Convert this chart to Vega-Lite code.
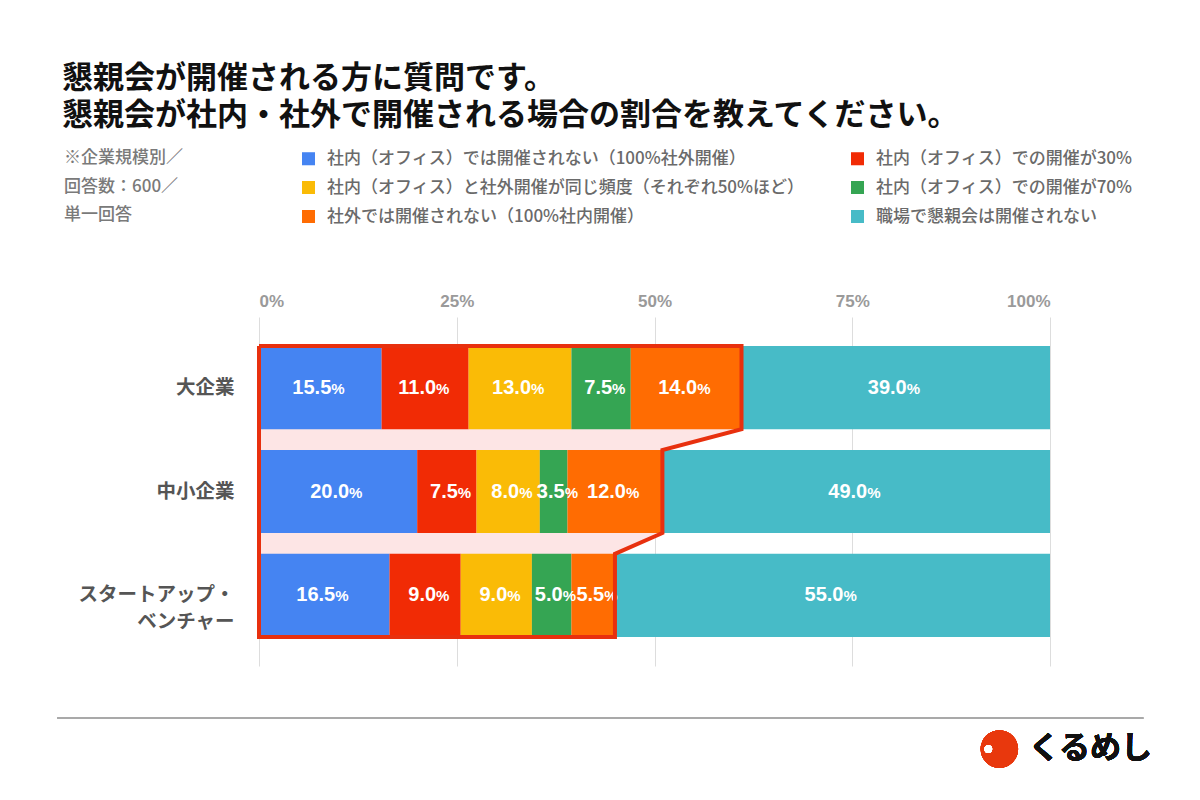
{
  "$schema": "https://vega.github.io/schema/vega-lite/v6.json",
  "autosize": {"type": "none"},
  "width": 791,
  "height": 349,
  "padding": {"left": 259, "top": 317, "right": 150, "bottom": 134},
  "background": "#ffffff",
  "config": {
    "view": {"stroke": null},
    "font": "Noto Sans CJK JP"
  },
  "title": {
    "text": ["懇親会が開催される方に質問です。", "懇親会が社内・社外で開催される場合の割合を教えてください。"],
    "anchor": "start",
    "frame": "group",
    "dx": -197,
    "dy": -14,
    "fontSize": 31,
    "fontWeight": "bold",
    "color": "#111111",
    "lineHeight": 37,
    "font": "Noto Sans CJK JP"
  },
  "datasets": {
    "bars": [
      {"cat": "大企業", "k": 1, "s": "社内（オフィス）では開催されない（100%社外開催）", "v": 15.5},
      {"cat": "大企業", "k": 2, "s": "社内（オフィス）での開催が30%", "v": 11.0},
      {"cat": "大企業", "k": 3, "s": "社内（オフィス）と社外開催が同じ頻度（それぞれ50%ほど）", "v": 13.0},
      {"cat": "大企業", "k": 4, "s": "社内（オフィス）での開催が70%", "v": 7.5},
      {"cat": "大企業", "k": 5, "s": "社外では開催されない（100%社内開催）", "v": 14.0},
      {"cat": "大企業", "k": 6, "s": "職場で懇親会は開催されない", "v": 39.0},
      {"cat": "中小企業", "k": 1, "s": "社内（オフィス）では開催されない（100%社外開催）", "v": 20.0},
      {"cat": "中小企業", "k": 2, "s": "社内（オフィス）での開催が30%", "v": 7.5},
      {"cat": "中小企業", "k": 3, "s": "社内（オフィス）と社外開催が同じ頻度（それぞれ50%ほど）", "v": 8.0},
      {"cat": "中小企業", "k": 4, "s": "社内（オフィス）での開催が70%", "v": 3.5},
      {"cat": "中小企業", "k": 5, "s": "社外では開催されない（100%社内開催）", "v": 12.0},
      {"cat": "中小企業", "k": 6, "s": "職場で懇親会は開催されない", "v": 49.0},
      {"cat": "スタートアップ・\nベンチャー", "k": 1, "s": "社内（オフィス）では開催されない（100%社外開催）", "v": 16.5},
      {"cat": "スタートアップ・\nベンチャー", "k": 2, "s": "社内（オフィス）での開催が30%", "v": 9.0},
      {"cat": "スタートアップ・\nベンチャー", "k": 3, "s": "社内（オフィス）と社外開催が同じ頻度（それぞれ50%ほど）", "v": 9.0},
      {"cat": "スタートアップ・\nベンチャー", "k": 4, "s": "社内（オフィス）での開催が70%", "v": 5.0},
      {"cat": "スタートアップ・\nベンチャー", "k": 5, "s": "社外では開催されない（100%社内開催）", "v": 5.5},
      {"cat": "スタートアップ・\nベンチャー", "k": 6, "s": "職場で懇親会は開催されない", "v": 55.0}
    ],
    "outline": [
      {"o": 1, "px": 0, "py": 0.28},
      {"o": 2, "px": 61, "py": 0.28},
      {"o": 3, "px": 61, "py": 1.08},
      {"o": 4, "px": 51, "py": 1.28},
      {"o": 5, "px": 51, "py": 2.08},
      {"o": 6, "px": 45, "py": 2.28},
      {"o": 7, "px": 45, "py": 3.08},
      {"o": 8, "px": 0, "py": 3.08},
      {"o": 9, "px": 0, "py": 0.28}
    ],
    "pink": [
      {"px": 61, "py": 0.28},
      {"px": 61, "py": 1.08},
      {"px": 51, "py": 1.28},
      {"px": 51, "py": 2.08},
      {"px": 45, "py": 2.28},
      {"px": 45, "py": 3.08}
    ]
  },
  "layer": [
    {
      "data": {"name": "pink"},
      "mark": {"type": "area", "orient": "horizontal", "color": "#FDE5E5", "clip": false},
      "encoding": {
        "y": {"field": "py", "type": "quantitative", "scale": {"domain": [0, 3.36], "reverse": true, "nice": false, "zero": false}, "axis": null},
        "x": {"field": "px", "type": "quantitative", "stack": null, "scale": {"domain": [0, 100], "nice": false}}
      }
    },
    {
      "data": {"name": "bars"},
      "encoding": {
        "y": {
          "field": "cat", "type": "nominal", "sort": null,
          "scale": {"paddingInner": 0.2, "paddingOuter": 0.28},
          "axis": {
            "title": null, "ticks": false, "domain": false,
            "labelPadding": 25, "labelFontSize": 19.5, "labelFontWeight": "bold",
            "labelColor": "#555555", "labelLineHeight": 27,
            "labelFont": "Noto Sans CJK JP",
            "labelExpr": "split(datum.label, '\\n')"
          }
        }
      },
      "layer": [
        {
          "mark": {"type": "bar"},
          "encoding": {
            "x": {
              "field": "v", "type": "quantitative", "stack": "zero",
              "scale": {"domain": [0, 100], "nice": false},
              "axis": {
                "orient": "top", "title": null, "values": [0, 25, 50, 75, 100],
                "labelExpr": "datum.value + '%'", "ticks": false, "domain": false,
                "grid": true, "gridColor": "#dddddd", "gridWidth": 1,
                "labelFontSize": 17, "labelFontWeight": "bold", "labelColor": "#9a9a9a",
                "labelPadding": 7, "labelFont": "Liberation Sans"
              }
            },
            "order": {"field": "k", "type": "quantitative"},
            "color": {
              "field": "s", "type": "nominal",
              "scale": {
                "domain": [
                  "社内（オフィス）では開催されない（100%社外開催）",
                  "社内（オフィス）での開催が30%",
                  "社内（オフィス）と社外開催が同じ頻度（それぞれ50%ほど）",
                  "社内（オフィス）での開催が70%",
                  "社外では開催されない（100%社内開催）",
                  "職場で懇親会は開催されない"
                ],
                "range": ["#4584F2", "#F12B05", "#FABB06", "#35A553", "#FF6C02", "#47BBC7"]
              },
              "legend": {
                "orient": "none", "legendX": -195, "legendY": -167,
                "direction": "horizontal",
                "columns": 2, "columnPadding": 44, "rowPadding": 11,
                "title": ["※企業規模別／", "\u00a0\u00a0\u00a0\u00a0回答数：600／", "\u00a0\u00a0\u00a0\u00a0単一回答"],
                "titleOrient": "left", "titleAnchor": "start", "titlePadding": 117,
                "titleFontSize": 17, "titleFontWeight": 500, "titleColor": "#7a7a7a",
                "titleLineHeight": 28.5, "titleFont": "Noto Sans CJK JP", "titleLimit": 300,
                "labelFontSize": 17, "labelFontWeight": 500, "labelColor": "#6a6a6a",
                "labelFont": "Noto Sans CJK JP", "labelLimit": 700, "labelOffset": 10,
                "symbolType": "square", "symbolSize": 170, "symbolStrokeWidth": 0
              }
            }
          }
        },
        {
          "mark": {"type": "text", "align": "right", "baseline": "middle", "dx": 11, "color": "#ffffff", "fontSize": 20, "fontWeight": "bold", "font": "Liberation Sans"},
          "encoding": {
            "x": {"field": "v", "type": "quantitative", "stack": "zero", "bandPosition": 0.5, "scale": {"domain": [0, 100], "nice": false}},
            "order": {"field": "k", "type": "quantitative"},
            "detail": {"field": "s", "type": "nominal"},
            "text": {"field": "v", "type": "quantitative", "format": ".1f"}
          }
        },
        {
          "mark": {"type": "text", "align": "left", "baseline": "middle", "dx": 11, "dy": 1, "color": "#ffffff", "fontSize": 15, "fontWeight": "bold", "font": "Liberation Sans"},
          "encoding": {
            "x": {"field": "v", "type": "quantitative", "stack": "zero", "bandPosition": 0.5, "scale": {"domain": [0, 100], "nice": false}},
            "order": {"field": "k", "type": "quantitative"},
            "detail": {"field": "s", "type": "nominal"},
            "text": {"value": "%"}
          }
        }
      ]
    },
    {
      "data": {"name": "outline"},
      "encoding": {
        "y": {"type": "quantitative", "scale": {"domain": [0, 3.36], "reverse": true, "nice": false, "zero": false}, "axis": null}
      },
      "layer": [
        {
          "mark": {"type": "line", "color": "#E8300E", "strokeWidth": 4, "clip": false, "strokeJoin": "miter"},
          "encoding": {
            "x": {"field": "px", "type": "quantitative", "scale": {"domain": [0, 100], "nice": false}},
            "y": {"field": "py", "type": "quantitative"},
            "order": {"field": "o", "type": "quantitative"}
          }
        },
        {
          "mark": {"type": "rule", "color": "#aaaaaa", "strokeWidth": 1, "clip": false},
          "encoding": {
            "x": {"datum": -25.5, "type": "quantitative"},
            "x2": {"datum": 111.8},
            "y": {"datum": 3.861, "type": "quantitative"}
          }
        },
        {
          "mark": {"type": "point", "shape": "circle", "filled": true, "color": "#E8380D", "size": 1400, "opacity": 1, "clip": false},
          "encoding": {
            "x": {"datum": 93.6, "type": "quantitative"},
            "y": {"datum": 4.16, "type": "quantitative"}
          }
        },
        {
          "mark": {"type": "point", "shape": "circle", "filled": true, "color": "#ffffff", "size": 60, "opacity": 1, "clip": false},
          "encoding": {
            "x": {"datum": 92.2, "type": "quantitative"},
            "y": {"datum": 4.16, "type": "quantitative"}
          }
        },
        {
          "mark": {"type": "text", "align": "left", "baseline": "middle", "fontSize": 31, "fontWeight": "bold", "color": "#111111", "font": "Noto Sans CJK JP", "clip": false},
          "encoding": {
            "x": {"datum": 97.3, "type": "quantitative"},
            "y": {"datum": 4.16, "type": "quantitative"},
            "text": {"value": "くるめし"}
          }
        }
      ]
    }
  ],
  "resolve": {"scale": {"y": "independent"}}
}
